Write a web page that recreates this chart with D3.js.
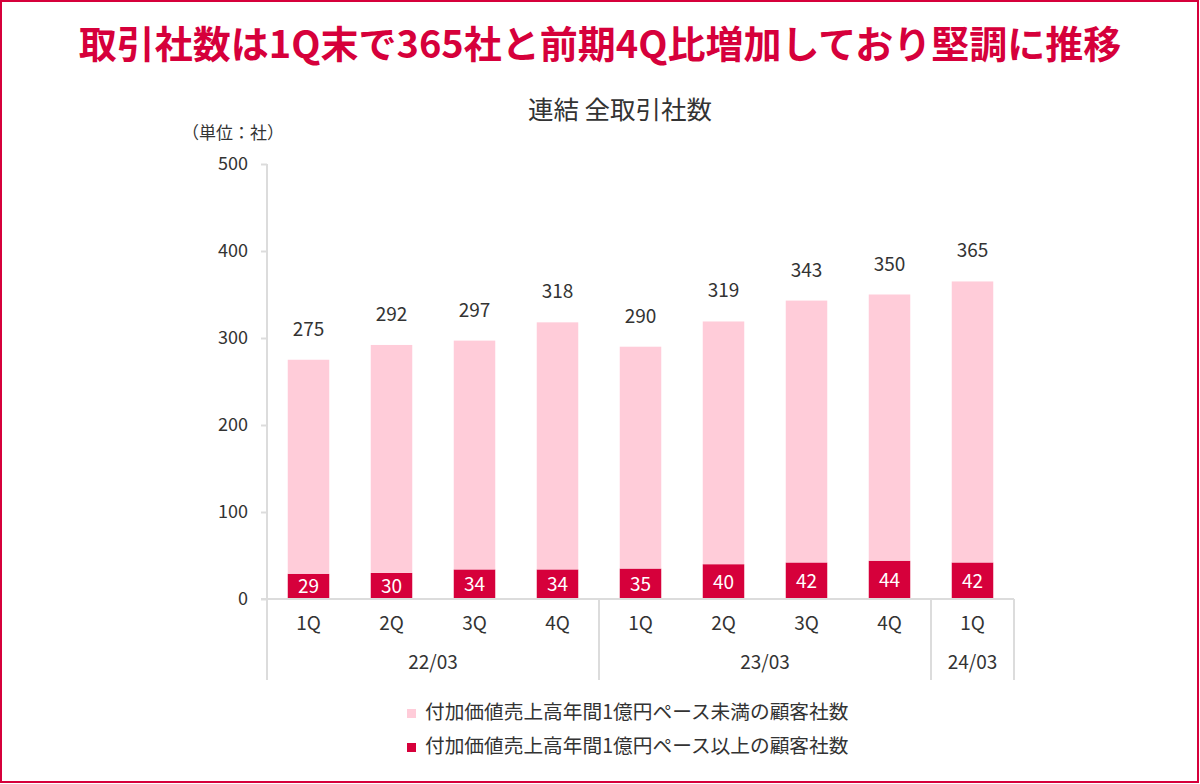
<!DOCTYPE html>
<html>
<head>
    <meta charset="utf-8">
    <title>連結 全取引社数</title>
    <script src="https://d3js.org/d3.v7.min.js"></script>
    <style>
        body { margin: 0; background: #fff; }
        svg { display: block; font-family: "Noto Sans CJK JP", "Noto Sans", sans-serif; }
    </style>
</head>
<body>
    <svg width="1200" height="784"></svg>
    <script>
        // data
        const quarters = ["1Q", "2Q", "3Q", "4Q", "1Q", "2Q", "3Q", "4Q", "1Q"];
        const years = [
            { label: "22/03", from: 0, to: 4 },
            { label: "23/03", from: 4, to: 8 },
            { label: "24/03", from: 8, to: 9 }
        ];
        const totals = [275, 292, 297, 318, 290, 319, 343, 350, 365];
        const over100m = [29, 30, 34, 34, 35, 40, 42, 44, 42];
        const under100m = totals.map((t, i) => t - over100m[i]);
        const yTicks = [0, 100, 200, 300, 400, 500];
        const seriesNames = [
            "付加価値売上高年間1億円ペース未満の顧客社数",
            "付加価値売上高年間1億円ペース以上の顧客社数"
        ];

        const red = "#d6003b";
        const pink = "#ffccd9";
        const axisGrey = "#dcdcdc";
        const textGrey = "#333";
        const font = "Noto Sans CJK JP, Noto Sans, sans-serif";

        const svg = d3.select("svg");

        // outer frame
        svg.append("rect")
            .attr("x", 1).attr("y", 1)
            .attr("width", 1197).attr("height", 781)
            .attr("fill", "#fff")
            .attr("stroke", red)
            .attr("stroke-width", 2);

        // headline
        svg.append("text")
            .attr("x", 600).attr("y", 58)
            .attr("text-anchor", "middle")
            .attr("font-size", 38)
            .attr("font-weight", 700)
            .attr("fill", red)
            .text("取引社数は1Q末で365社と前期4Q比増加しており堅調に推移");

        svg.append("text")
            .attr("x", 620).attr("y", 119)
            .attr("text-anchor", "middle")
            .attr("font-size", 25.5)
            .attr("fill", textGrey)
            .text("連結 全取引社数");

        svg.append("text")
            .attr("x", 233).attr("y", 139)
            .attr("text-anchor", "middle")
            .attr("font-size", 17)
            .attr("fill", textGrey)
            .text("（単位：社）");

        // scales
        const plotLeft = 267, plotRight = 1014, plotTop = 164, plotBottom = 599, groupBottom = 680;
        const x = d3.scaleBand()
            .domain(d3.range(quarters.length))
            .range([plotLeft, plotRight])
            .paddingInner(0.5)
            .paddingOuter(0.25);
        const y = d3.scaleLinear().domain([0, 500]).range([plotBottom, plotTop]);

        // y axis
        const yAxis = svg.append("g")
            .attr("transform", `translate(${plotLeft},0)`)
            .call(d3.axisLeft(y).tickValues(yTicks).tickSize(6).tickPadding(13));
        yAxis.select(".domain").remove();
        yAxis.selectAll(".tick line").attr("stroke", axisGrey).attr("stroke-width", 2);
        yAxis.selectAll(".tick text")
            .attr("font-size", 18)
            .attr("fill", textGrey)
            .attr("font-family", font);
        svg.append("line")
            .attr("x1", plotLeft).attr("x2", plotLeft)
            .attr("y1", plotTop).attr("y2", groupBottom)
            .attr("stroke", axisGrey).attr("stroke-width", 2);

        // stacked bars
        const stack = d3.stack().keys([0, 1])
            .value((d, k) => k === 0 ? d.over : d.under);
        const rows = quarters.map((q, i) => ({ i, over: over100m[i], under: under100m[i] }));
        const layers = stack(rows);
        const colors = [red, pink];

        svg.append("g").selectAll("g")
            .data(layers)
            .join("g")
            .attr("fill", (d, k) => colors[k])
            .selectAll("rect")
            .data(d => d)
            .join("rect")
            .attr("x", d => x(d.data.i))
            .attr("width", x.bandwidth())
            .attr("y", d => y(d[1]))
            .attr("height", d => y(d[0]) - y(d[1]));

        // labels inside dark bars
        svg.append("g").selectAll("text")
            .data(rows)
            .join("text")
            .attr("x", d => x(d.i) + x.bandwidth() / 2)
            .attr("y", d => y(d.over / 2) + 7)
            .attr("text-anchor", "middle")
            .attr("font-size", 19)
            .attr("fill", "#fff")
            .text(d => d.over);

        // totals above bars
        svg.append("g").selectAll("text")
            .data(totals)
            .join("text")
            .attr("x", (d, i) => x(i) + x.bandwidth() / 2)
            .attr("y", d => y(d) - 24)
            .attr("text-anchor", "middle")
            .attr("font-size", 19)
            .attr("fill", textGrey)
            .text(d => d);

        // x axis baseline
        svg.append("line")
            .attr("x1", plotLeft - 6).attr("x2", plotRight)
            .attr("y1", plotBottom).attr("y2", plotBottom)
            .attr("stroke", axisGrey).attr("stroke-width", 2);

        const step = x.step();
        // group separators
        svg.append("g").selectAll("line")
            .data(years)
            .join("line")
            .attr("x1", d => plotLeft + d.to * step)
            .attr("x2", d => plotLeft + d.to * step)
            .attr("y1", plotBottom).attr("y2", groupBottom)
            .attr("stroke", axisGrey).attr("stroke-width", 2);

        svg.append("g").selectAll("text")
            .data(quarters)
            .join("text")
            .attr("x", (d, i) => x(i) + x.bandwidth() / 2)
            .attr("y", 630)
            .attr("text-anchor", "middle")
            .attr("font-size", 19)
            .attr("fill", textGrey)
            .text(d => d);

        svg.append("g").selectAll("text")
            .data(years)
            .join("text")
            .attr("x", d => plotLeft + (d.from + d.to) / 2 * step)
            .attr("y", 669)
            .attr("text-anchor", "middle")
            .attr("font-size", 19)
            .attr("fill", textGrey)
            .text(d => d.label);

        // legend
        const legend = svg.append("g").selectAll("g")
            .data(seriesNames)
            .join("g")
            .attr("transform", (d, i) => `translate(407,${712 + i * 34})`);
        legend.append("rect")
            .attr("x", 0).attr("y", -3)
            .attr("width", 9).attr("height", 9)
            .attr("fill", (d, i) => i === 0 ? pink : red);
        legend.append("text")
            .attr("x", 18).attr("y", 7)
            .attr("font-size", 19.7)
            .attr("fill", textGrey)
            .text(d => d);
    </script>
</body>
</html>
